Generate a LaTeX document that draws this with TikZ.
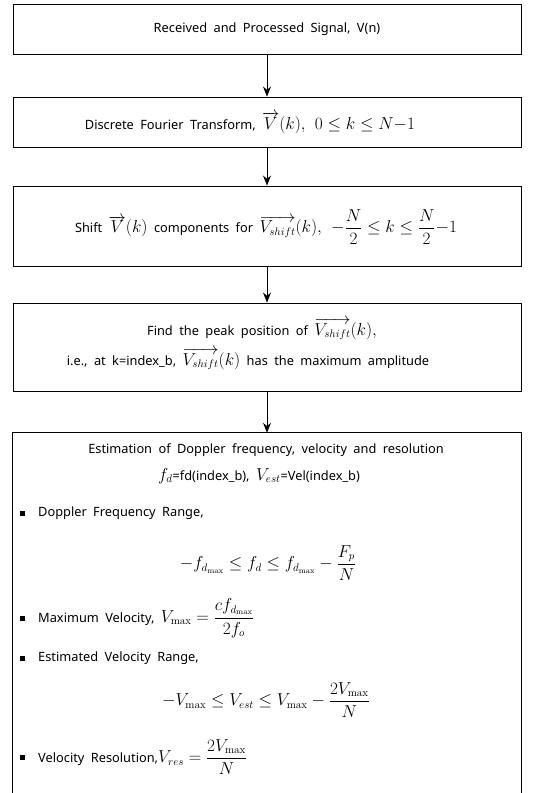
\documentclass[tikz,border=0pt]{standalone}
\usepackage[no-math]{fontspec}
\setmainfont{Noto Sans}
\usetikzlibrary{arrows.meta}
\newcommand{\mth}[1]{{\fontsize{16}{19}\selectfont$#1$}}
\newcommand{\dmth}[1]{{\fontsize{16}{19}\selectfont$\displaystyle #1$}}
\newcommand{\txtfont}{\fontsize{12.8}{15}\selectfont\spaceskip=0.5em plus 0.1em\relax}
\begin{document}
\begin{tikzpicture}[x=1pt,y=-1pt,
  box/.style={draw, line width=0.9pt, minimum width=508pt, inner sep=0pt},
  arr/.style={-{Stealth[length=10pt,width=8pt]}, line width=0.9pt},
  txt/.style={font=\txtfont, inner sep=0pt},
  bul/.style={fill=black, inner sep=0pt, minimum size=5pt}]
\useasboundingbox (0,0) rectangle (545,793);
\node[box, minimum height=50pt] (b1) at (267,29) {};
\node[box, minimum height=50pt] (b2) at (267,122) {};
\node[box, minimum height=80pt] (b3) at (267,226) {};
\node[box, minimum height=88pt] (b4) at (267,347) {};
\node[minimum width=508pt, minimum height=367pt, inner sep=0pt] (b5) at (267,616.5) {};
\draw[line width=0.9pt] (b5.south west) |- (b5.north east) -- (b5.south east);

\draw[arr] (b1.south) -- (b2.north);
\draw[arr] (b2.south) -- (b3.north);
\draw[arr] (b3.south) -- (b4.north);
\draw[arr] (b4.south) -- (b5.north);

\node[txt] (t1) at (267,29) {Received and Processed Signal, V(n)};
\node[txt] (t2) at (250,123) {Discrete Fourier Transform, \mth{\overrightarrow{V}(k),\ 0\le k\le N{-}1}};
\node[txt] (t3) at (266,227) {Shift \dmth{\overrightarrow{V}(k)} components for \dmth{\overrightarrow{V_{shift}}(k),\ -\frac{N}{2}\le k\le\frac{N}{2}{-}1}};
\node[txt] (t4a) at (262,329) {Find the peak position of \mth{\overrightarrow{V_{shift}}(k),}};
\node[txt] (t4b) at (248,359) {i.e., at k=index\_b, \mth{\overrightarrow{V_{shift}}(k)} has the maximum amplitude};

\node[txt] (t5a) at (266,450) {Estimation of Doppler frequency, velocity and resolution};
\node[txt] (t5b) at (259,476) {\mth{f_d}=fd(index\_b), \mth{V_{est}}=Vel(index\_b)};
\node[bul] (p1) at (22,513) {};
\node[txt, anchor=west] (t5c) at (38,513) {Doppler Frequency Range,};
\node[txt] (t5d) at (268,563) {\dmth{-f_{d_{\max}}\le f_d\le f_{d_{\max}}-\frac{F_p}{N}}};
\node[bul] (p2) at (22,618) {};
\node[txt, anchor=west] (t5e) at (38,618) {Maximum Velocity, \dmth{V_{\max}=\frac{cf_{d_{\max}}}{2f_o}}};
\node[bul] (p3) at (22,658) {};
\node[txt, anchor=west] (t5f) at (38,658) {Estimated Velocity Range,};
\node[txt] (t5g) at (266,700) {\dmth{-V_{\max}\le V_{est}\le V_{\max}-\frac{2V_{\max}}{N}}};
\node[bul] (p4) at (22,757) {};
\node[txt, anchor=west] (t5h) at (38,757) {Velocity Resolution,\dmth{V_{res}=\frac{2V_{\max}}{N}}};
\end{tikzpicture}
\end{document}
